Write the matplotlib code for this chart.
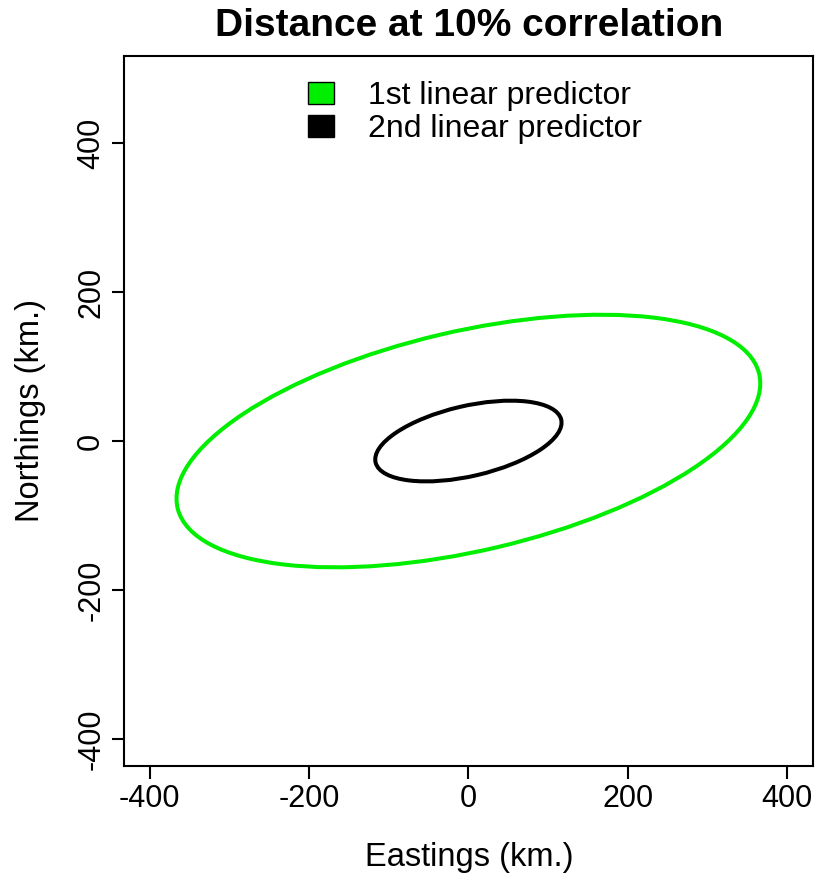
import matplotlib
matplotlib.use("Agg")
import matplotlib.pyplot as plt
from matplotlib.patches import Ellipse, Patch

plt.rcParams['font.family'] = ['Liberation Sans', 'DejaVu Sans']
plt.rcParams['axes.unicode_minus'] = False

# ellipse parameters (km.)
labels = ['1st linear predictor', '2nd linear predictor']
centre_x = [0, 0]
centre_y = [0, 0]
semi_major = [376, 120]
semi_minor = [147, 47]
angle_deg = [14.1, 14.1]
colours = ['#00ee00', 'black']

xticks = [-400, -200, 0, 200, 400]
yticks = [-400, -200, 0, 200, 400]

fig = plt.figure(figsize=(8.16, 8.76), dpi=100)
ax = fig.add_axes([0.1523, 0.1256, 0.8444, 0.8108])

handles = []
for i in range(len(labels)):
    e = Ellipse((centre_x[i], centre_y[i]), 2 * semi_major[i], 2 * semi_minor[i],
                angle=angle_deg[i], fill=False, edgecolor=colours[i], lw=2.9)
    ax.add_patch(e)
    handles.append(Patch(facecolor=colours[i], edgecolor='black', lw=1))

ax.set_xlim(-432, 433)
ax.set_ylim(-436, 517)
ax.set_xticks(xticks)
ax.set_yticks(yticks)
ax.set_yticklabels([str(v) for v in yticks], rotation=90, va='center')
ax.tick_params(labelsize=22, length=9, width=1.5, direction='out', pad=4)
for s in ax.spines.values():
    s.set_linewidth(1.5)

ax.set_xlabel('Eastings (km.)', fontsize=23.5, labelpad=20)
ax.set_ylabel('Northings (km.)', fontsize=23.5, labelpad=22)
ax.set_title('Distance at 10% correlation', fontsize=28, fontweight='bold', pad=14)

ax.legend(handles, labels, loc='upper center', bbox_to_anchor=(0.509, 1.0),
          frameon=False, fontsize=23,
          handlelength=0.8, handleheight=0.7, handletextpad=1.05,
          labelspacing=0.1, borderaxespad=0.4)

fig.savefig('out.png', dpi=100)
